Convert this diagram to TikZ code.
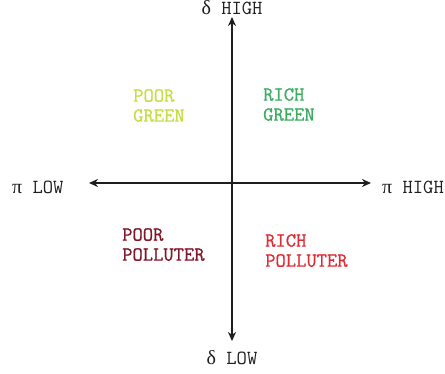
\documentclass[tikz,border=0pt]{standalone}
\usepackage{fontspec}
\newfontfamily\greekfont{Liberation Serif}
\newfontfamily\quadfont[FakeBold=0.9]{Latin Modern Mono}
\usetikzlibrary{arrows.meta}
\definecolor{qpoorgreen}{RGB}{196,222,70}
\definecolor{qrichgreen}{RGB}{60,172,96}
\definecolor{qpoorpoll}{RGB}{128,22,42}
\definecolor{qrichpoll}{RGB}{222,44,52}
\definecolor{qaxis}{RGB}{30,30,30}

\begin{document}
\begin{tikzpicture}[
    x=1pt, y=-1pt,
    >={Stealth[length=9pt,width=8pt]},
    axis/.style={draw=qaxis, line width=1.8pt, <->},
    tag/.style={font=\fontsize{20}{20}\selectfont\ttfamily, inner sep=0pt, text=qaxis},
    quad/.style={tag, font=\fontsize{20}{20}\selectfont\quadfont, align=left, anchor=north west},
  ]
  \useasboundingbox (0,0) rectangle (445,374);

  \coordinate (top)    at (232,17);
  \coordinate (bottom) at (232,341);
  \coordinate (left)   at (89,183);
  \coordinate (right)  at (371,183);

  \draw[axis] (top) -- (bottom);
  \draw[axis] (left) -- (right);

  % axis labels
  \node[tag] (dhigh) at (232,8)   {{\greekfont δ} HIGH};
  \node[tag] (dlow)  at (232,358) {{\greekfont δ} LOW};
  \node[tag, anchor=west] (plow)  at (12,187)  {{\greekfont π} LOW};
  \node[tag, anchor=east] (phigh) at (444,187) {{\greekfont π} HIGH};

  % quadrants
  \node[quad, text=qpoorgreen] (poorgreen) at (133,89)  {POOR\\GREEN};
  \node[quad, text=qrichgreen] (richgreen) at (263,88)  {RICH\\GREEN};
  \node[quad, text=qpoorpoll]  (poorpoll)  at (122,228) {POOR\\POLLUTER};
  \node[quad, text=qrichpoll]  (richpoll)  at (265,234) {RICH\\POLLUTER};

\end{tikzpicture}
\end{document}
